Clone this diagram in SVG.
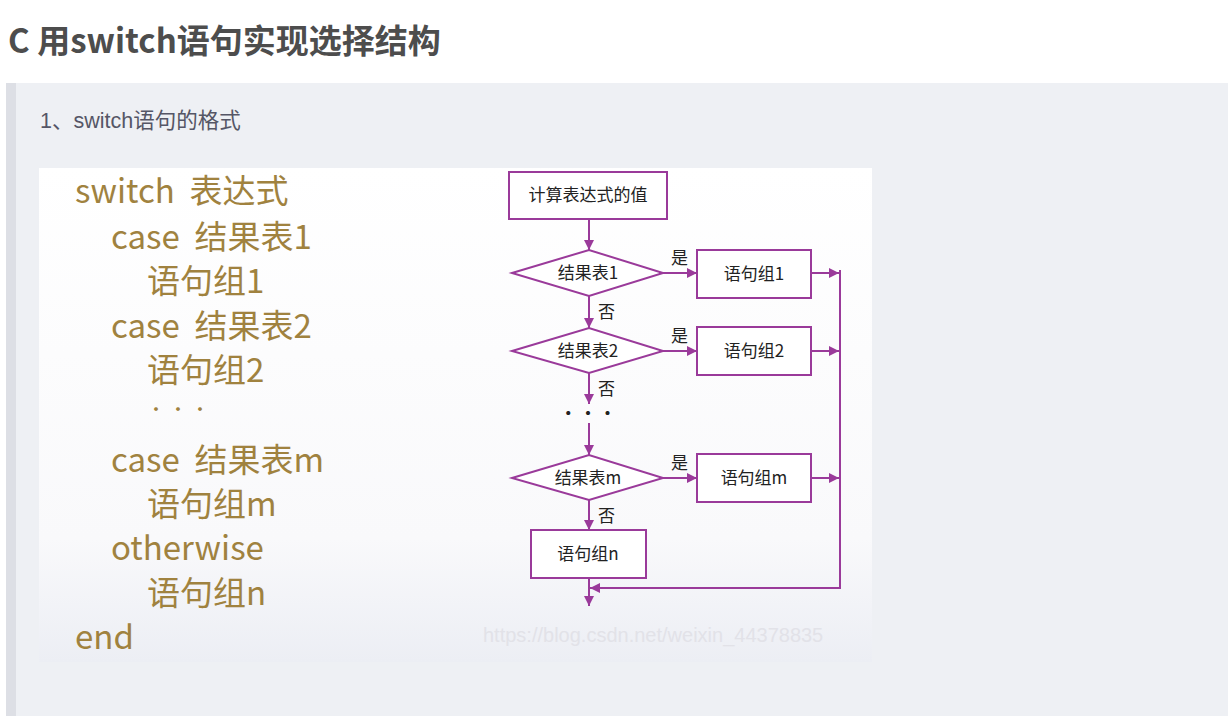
<svg xmlns="http://www.w3.org/2000/svg" width="1228" height="716" viewBox="0 0 1228 716">
<defs>
<style>
.title{font-family:"Noto Sans CJK SC","Liberation Sans",sans-serif;font-weight:bold;font-size:33px;fill:#4d4d4d}
.sub{font-family:"Liberation Sans","Noto Sans CJK SC",sans-serif;font-size:21.5px;fill:#555666}
.code{font-family:"Noto Sans CJK SC",sans-serif;font-size:33px;fill:#a0823f}
.fc{font-family:"Noto Sans CJK SC",sans-serif;font-size:17px;fill:#222}
.box{fill:#ffffff;stroke:#9a3a9a;stroke-width:2}
.ln{fill:none;stroke:#9a3a9a;stroke-width:2}
.wm{font-family:"Liberation Sans",sans-serif;font-size:20px;fill:#e2e2e8}
</style>
<marker id="ah" viewBox="0 0 10 10" refX="10" refY="5" markerWidth="10" markerHeight="10" markerUnits="userSpaceOnUse" orient="auto">
<path d="M0,0 L10,5 L0,10 z" fill="#9a3a9a"/>
</marker>
<linearGradient id="bg" x1="0" y1="0" x2="0" y2="1">
<stop offset="0" stop-color="#ffffff"/>
<stop offset="0.75" stop-color="#f9f9fb"/>
<stop offset="1" stop-color="#eceef4"/>
</linearGradient>
</defs>
<rect width="1228" height="716" fill="#ffffff"/>
<text class="title" x="8" y="53">C 用switch语句实现选择结构</text>
<rect x="6" y="83" width="1222" height="633" fill="#eef0f4"/>
<rect x="6" y="83" width="10" height="633" fill="#dddfe5"/>
<text class="sub" x="40" y="128">1、switch语句的格式</text>
<rect x="39" y="168" width="833" height="494" fill="url(#bg)"/>
<g id="code">
<text class="code" x="75" y="203">switch&#160;&#160;表达式</text>
<text class="code" x="111" y="249">case&#160;&#160;结果表1</text>
<text class="code" x="147" y="293">语句组1</text>
<text class="code" x="111" y="338">case&#160;&#160;结果表2</text>
<text class="code" x="147" y="382">语句组2</text>
<text class="code" x="147" y="416" style="font-size:18px">·&#160;·&#160;·</text>
<text class="code" x="111" y="472">case&#160;&#160;结果表m</text>
<text class="code" x="147" y="516">语句组m</text>
<text class="code" x="111" y="560">otherwise</text>
<text class="code" x="147" y="605">语句组n</text>
<text class="code" x="75" y="649">end</text>
</g>
<text class="wm" x="483" y="642">https://blog.csdn.net/weixin_44378835</text>
<g id="connectors">
<line class="ln" x1="589" y1="219" x2="589" y2="250" marker-end="url(#ah)"/>
<line class="ln" x1="663" y1="273" x2="697" y2="273" marker-end="url(#ah)"/>
<line class="ln" x1="811" y1="273" x2="839" y2="273" marker-end="url(#ah)"/>
<line class="ln" x1="589" y1="296" x2="589" y2="328" marker-end="url(#ah)"/>
<line class="ln" x1="663" y1="351" x2="697" y2="351" marker-end="url(#ah)"/>
<line class="ln" x1="811" y1="351" x2="839" y2="351" marker-end="url(#ah)"/>
<line class="ln" x1="589" y1="373" x2="589" y2="404" marker-end="url(#ah)"/>
<line class="ln" x1="589" y1="423" x2="589" y2="455" marker-end="url(#ah)"/>
<line class="ln" x1="663" y1="478" x2="697" y2="478" marker-end="url(#ah)"/>
<line class="ln" x1="811" y1="478" x2="839" y2="478" marker-end="url(#ah)"/>
<line class="ln" x1="589" y1="500" x2="589" y2="530" marker-end="url(#ah)"/>
<line class="ln" x1="589" y1="578" x2="589" y2="606" marker-end="url(#ah)"/>
<polyline class="ln" points="840,270 840,588 590,588" marker-end="url(#ah)"/>
<text class="fc" x="671" y="264">是</text>
<text class="fc" x="671" y="342">是</text>
<text class="fc" x="671" y="469">是</text>
<text class="fc" x="598" y="318">否</text>
<text class="fc" x="598" y="395">否</text>
<text class="fc" x="598" y="522">否</text>
<text class="fc" x="588" y="419" text-anchor="middle" style="font-size:16px;font-weight:bold">·&#160;·&#160;·</text>
</g>
<g id="start">
<rect class="box" x="509" y="172" width="158" height="47"/>
<text class="fc" x="588" y="201" text-anchor="middle">计算表达式的值</text>
</g>
<g id="cond1">
<polygon class="box" points="512,273 589,250 663,273 589,296"/>
<text class="fc" x="588" y="279" text-anchor="middle">结果表1</text>
</g>
<g id="stmt1">
<rect class="box" x="697" y="250" width="114" height="48"/>
<text class="fc" x="754" y="280" text-anchor="middle">语句组1</text>
</g>
<g id="cond2">
<polygon class="box" points="512,351 589,328 663,351 589,373"/>
<text class="fc" x="588" y="357" text-anchor="middle">结果表2</text>
</g>
<g id="stmt2">
<rect class="box" x="697" y="327" width="114" height="48"/>
<text class="fc" x="754" y="357" text-anchor="middle">语句组2</text>
</g>
<g id="condm">
<polygon class="box" points="512,478 589,455 663,478 589,500"/>
<text class="fc" x="588" y="484" text-anchor="middle">结果表m</text>
</g>
<g id="stmtm">
<rect class="box" x="697" y="454" width="114" height="48"/>
<text class="fc" x="754" y="484" text-anchor="middle">语句组m</text>
</g>
<g id="stmtn">
<rect class="box" x="531" y="530" width="115" height="48"/>
<text class="fc" x="588" y="560" text-anchor="middle">语句组n</text>
</g>
</svg>
